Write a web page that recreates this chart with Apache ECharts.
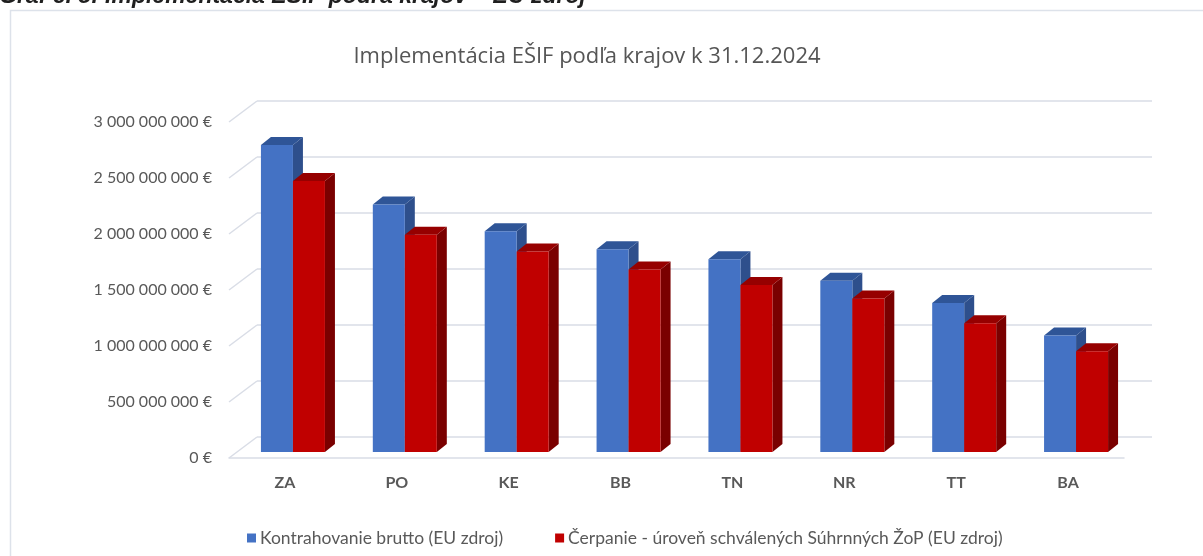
<!DOCTYPE html>
<html>
<head>
<meta charset="utf-8">
<script src="https://cdn.jsdelivr.net/npm/echarts@6/dist/echarts.min.js"></script>
<style>
  html, body { margin: 0; padding: 0; background: #fff; }
  #main { width: 1203px; height: 556px; }
</style>
</head>
<body>
<div id="main"></div>
<script>
const regions = ["ZA", "PO", "KE", "BB", "TN", "NR", "TT", "BA"];
const kontrahovanie = [2.74e9, 2.21e9, 1.97e9, 1.81e9, 1.72e9, 1.53e9, 1.33e9, 1.04e9];
const cerpanie = [2.42e9, 1.94e9, 1.79e9, 1.63e9, 1.49e9, 1.37e9, 1.15e9, 0.9e9];
const yTicks = [0, 5e8, 1e9, 1.5e9, 2e9, 2.5e9, 3e9];

const seriesNames = [
  "Kontrahovanie brutto (EU zdroj)",
  "Čerpanie - úroveň schválených Súhrnných ŽoP (EU zdroj)",
];

const FONT = "Lato";
const TXT = "#595959";
const GRID = "#d9dde6";
// oblique 3d offsets
const WALL_DX = 28, WALL_DY = 21; // back wall vs front plane
const BAR_DX = 8, BAR_DY = 6;     // bar front vs front plane
const DEPTH_DX = 10, DEPTH_DY = 8; // bar depth
const BAR_W = 32;

const fmt = (v) => String(v).replace(/\B(?=(\d{3})+(?!\d))/g, " ") + " €";

// colours: front, top, side
const palettes = [
  ["#4472C4", "#2F5597", "#2E4F8C"],
  ["#C00000", "#960000", "#7A0000"],
];

function barRenderer(side) {
  return function (params, api) {
    const cat = api.value(0);
    const val = api.value(1);
    const base = api.coord([cat, 0]);
    const top = api.coord([cat, val]);
    const cx = base[0] + BAR_DX;
    const x = side === 0 ? cx - BAR_W : cx;
    const yb = base[1] - BAR_DY;
    const yt = top[1] - BAR_DY;
    const pal = palettes[side];
    return {
      type: "group",
      children: [
        {
          type: "polygon",
          shape: { points: [[x + BAR_W, yt], [x + BAR_W + DEPTH_DX, yt - DEPTH_DY], [x + BAR_W + DEPTH_DX, yb - DEPTH_DY], [x + BAR_W, yb]] },
          style: { fill: pal[2] },
        },
        {
          type: "polygon",
          shape: { points: [[x, yt], [x + DEPTH_DX, yt - DEPTH_DY], [x + BAR_W + DEPTH_DX, yt - DEPTH_DY], [x + BAR_W, yt]] },
          style: { fill: pal[1] },
        },
        {
          type: "rect",
          shape: { x: x, y: yt, width: BAR_W, height: yb - yt },
          style: { fill: pal[0] },
        },
      ],
    };
  };
}

const chart = echarts.init(document.getElementById("main"));

const option = {
  animation: false,
  textStyle: { fontFamily: FONT },
  title: {
    text: "Implementácia EŠIF podľa krajov k 31.12.2024",
    left: 582,
    top: 41,
    textAlign: "center",
    textStyle: { fontFamily: "Open Sans", fontSize: 22, fontWeight: "normal", color: "#555555" },
  },
  legend: {
    data: seriesNames,
    left: 242,
    top: 524,
    icon: "rect",
    itemWidth: 9,
    itemHeight: 9,
    itemGap: 52,
    textStyle: { fontFamily: FONT, fontSize: 17.5, color: TXT, padding: [0, 0, 0, -1] },
  },
  graphic: [
    {
      type: "rect",
      shape: { x: 10.5, y: 10.5, width: 1300, height: 700 },
      style: { fill: null, stroke: "#dde2ea", lineWidth: 1.5 },
      z: -10,
    },
    {
      type: "text",
      left: -1,
      top: -15,
      style: {
        text: "Graf č. 8: Implementácia EŠIF podľa krajov – EU zdroj",
        font: 'italic bold 23px "Liberation Sans"',
        fill: "#1f1f1f",
      },
    },
  ],
  grid: [
    { left: 229, top: 122, width: 895, height: 336 },
    { left: 229 + WALL_DX, top: 122 - WALL_DY, width: 895, height: 336 },
  ],
  xAxis: [
    {
      type: "category",
      gridIndex: 0,
      data: regions,
      axisLine: { lineStyle: { color: GRID, width: 1.5 } },
      axisTick: { show: false },
      axisLabel: { margin: 17, fontSize: 16, fontWeight: "bold", color: TXT, fontFamily: FONT },
    },
    {
      type: "category",
      gridIndex: 1,
      data: regions,
      show: false,
    },
  ],
  yAxis: [
    {
      type: "value",
      gridIndex: 0,
      min: 0,
      max: 3e9,
      interval: 5e8,
      axisLine: { show: false },
      axisTick: { show: false },
      splitLine: { show: false },
      axisLabel: { margin: 17, fontSize: 16, color: TXT, fontFamily: FONT, formatter: fmt },
    },
    {
      type: "value",
      gridIndex: 1,
      min: 0,
      max: 3e9,
      interval: 5e8,
      axisLine: { show: false },
      axisTick: { show: false },
      axisLabel: { show: false },
      splitLine: { lineStyle: { color: GRID, width: 1.5 } },
    },
  ],
  series: [
    {
      // diagonal side-wall lines from the front axis to the back wall
      type: "custom",
      xAxisIndex: 0,
      yAxisIndex: 0,
      silent: true,
      data: yTicks.map((v) => [0, v]),
      renderItem: function (params, api) {
        const p = api.coord([0, api.value(1)]);
        const x0 = params.coordSys.x;
        return {
          type: "line",
          shape: { x1: x0, y1: p[1], x2: x0 + WALL_DX, y2: p[1] - WALL_DY },
          style: { stroke: GRID, lineWidth: 1.5 },
        };
      },
      z: 1,
    },
    {
      name: seriesNames[0],
      type: "custom",
      xAxisIndex: 0,
      yAxisIndex: 0,
      itemStyle: { color: palettes[0][0] },
      data: kontrahovanie.map((v, i) => [i, v]),
      renderItem: barRenderer(0),
      z: 2,
    },
    {
      name: seriesNames[1],
      type: "custom",
      xAxisIndex: 0,
      yAxisIndex: 0,
      itemStyle: { color: palettes[1][0] },
      data: cerpanie.map((v, i) => [i, v]),
      renderItem: barRenderer(1),
      z: 3,
    },
  ],
};

chart.setOption(option);
</script>
</body>
</html>
